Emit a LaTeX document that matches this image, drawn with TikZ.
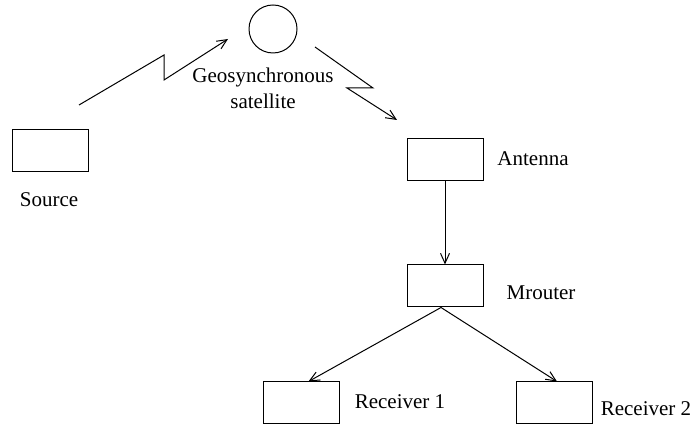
\documentclass[tikz,border=0pt]{standalone}
\usepackage{fontspec}
\setmainfont{Liberation Serif}
\usetikzlibrary{arrows.meta}

\begin{document}
\begin{tikzpicture}[x=0.5pt,y=-0.5pt,line width=0.5pt,->,>={Straight Barb[length=5pt,width=4.5pt]}]
    \tikzstyle{box}=[draw,rectangle,minimum width=38pt,minimum height=21pt,inner sep=0pt]
    \tikzstyle{sat}=[draw,circle,minimum size=24pt,inner sep=0pt]
    \tikzstyle{annot}=[align=center,inner sep=0pt,font=\fontsize{10.5}{13}\selectfont]

    \useasboundingbox (0,0) rectangle (695,426);

    % Draw the boxes
    \node[box] (src) at (50,151) {};
    \node[box] (ant) at (445,159.5) {};
    \node[box] (mr) at (445,286) {};
    \node[box] (r1) at (301.5,403) {};
    \node[box] (r2) at (554,403) {};

    % Draw the satellite
    \node[sat] (geo) at (273,29) {};

    % Annotate the nodes
    \node[annot] (srcl) at (49,200) {Source};
    \node[annot] (geol) at (263,88) {Geosynchronous\\satellite};
    \node[annot] (antl) at (533,159) {Antenna};
    \node[annot] (mrl) at (541,293) {Mrouter};
    \node[annot] (r1l) at (400,402) {Receiver 1};
    \node[annot] (r2l) at (646,409) {Receiver 2};

    % Free ends of the radio links
    \coordinate (up-s) at (79,105);
    \coordinate (up-e) at (228,39);
    \coordinate (dn-s) at (315,47);
    \coordinate (dn-e) at (397,120);

    % Radio links
    \draw (up-s) -- (164,55) -- (164,80) -- (up-e);
    \draw (dn-s) -- (373,88) -- (347,88) -- (dn-e);

    % Connect antenna, mrouter and receivers
    \draw (ant) -- (mr);
    \draw ([xshift=-2pt]mr.south) -- ([xshift=3.5pt]r1.north);
    \draw ([xshift=-2pt]mr.south) -- ([xshift=1.5pt]r2.north);
\end{tikzpicture}
\end{document}
